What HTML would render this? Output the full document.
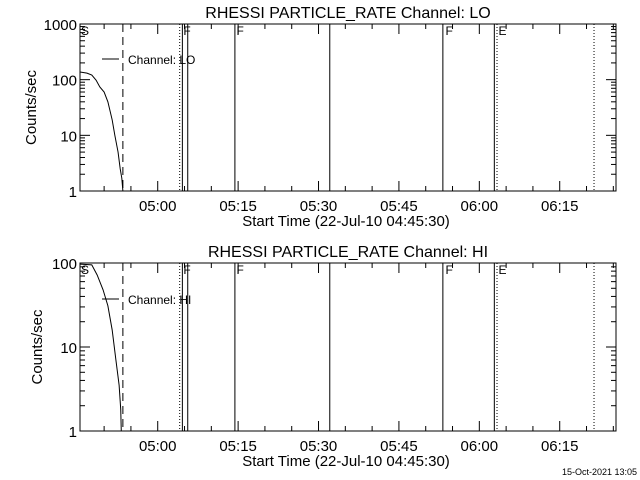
<!DOCTYPE html>
<html><head><meta charset="utf-8"><style>
body{margin:0;background:#fff}
svg{display:block;font-family:"Liberation Sans",sans-serif}
</style></head><body>
<svg id="c" width="640" height="480" viewBox="0 0 640 480"></svg>
<script>
const loTimes=[0,1.3,2.2,3.0,3.7,4.5,5.2,6.0,6.5,7.1,7.5,7.8,8.0];
const loValues=[137,131,121,98,74,60,40,19,10,5,2.5,1.7,1];
const hiTimes=[0,2.2,3.2,4.3,5.2,6.0,6.7,7.3,7.6,7.7];
const hiValues=[97,95,72,48,31,16,7,3.5,1.8,1];
const tickLabels=["05:00","05:15","05:30","05:45","06:00","06:15"];
const tickMinutes=[14.5,29.5,44.5,59.5,74.5,89.5];
const solidLines=[19.1,20.1,28.9,46.6,67.7,77.3];
const dottedLines=[18.6,77.8,95.9];
const dashedLine=8.0;
const markerLabels=["S","F","F","F","E"];
const markerTimes=[0,19.1,29.0,68.0,77.9];
const T_MAX=100;
const NS="http://www.w3.org/2000/svg";
const svg=document.getElementById('c');
function el(t,a,p){const e=document.createElementNS(NS,t);for(const k in a)e.setAttribute(k,a[k]);(p||svg).appendChild(e);return e;}
const X0=80,X1=616;
function xs(t){return X0+(X1-X0)*t/T_MAX;}
function panel(top,bot,decMax,title,times,vals,legendY,legendText,name){
  const g=el('g',{});
  
  
  function ys(v){return bot-(bot-top)*Math.log10(v)/decMax;}
  const t=el('text',{x:348,y:top-6,'text-anchor':'middle','font-size':16},g);t.textContent=title;
  
  el('rect',{x:X0,y:top,width:X1-X0,height:bot-top,fill:'none',stroke:'#000'},g);
  // y ticks
  for(let d=0;d<=decMax;d++){
    const y=ys(Math.pow(10,d));
    el('line',{x1:X0,x2:X0+10,y1:y,y2:y,stroke:'#000'},g);
    el('line',{x1:X1,x2:X1-10,y1:y,y2:y,stroke:'#000'},g);
    const l=el('text',{x:X0-3,y:y+6,'text-anchor':'end','font-size':15},g);l.textContent=String(Math.pow(10,d));
    
    if(d<decMax)for(let m=2;m<=9;m++){const ym=ys(m*Math.pow(10,d));
      el('line',{x1:X0,x2:X0+5,y1:ym,y2:ym,stroke:'#000'},g);
      el('line',{x1:X1,x2:X1-5,y1:ym,y2:ym,stroke:'#000'},g);}
  }
  // x ticks
  for(let m=4.5;m<T_MAX;m+=5){const x=xs(m);const major=tickMinutes.some(v=>Math.abs(v-m)<0.01);const L=major?10:5;
    el('line',{x1:x,x2:x,y1:bot,y2:bot-L,stroke:'#000'},g);el('line',{x1:x,x2:x,y1:top,y2:top+L,stroke:'#000'},g);}
  tickLabels.forEach((s,i)=>{const l=el('text',{x:xs(tickMinutes[i]),y:bot+20,'text-anchor':'middle','font-size':15},g);l.textContent=s;
    });
  const xl=el('text',{x:346,y:bot+35,'text-anchor':'middle','font-size':15},g);xl.textContent='Start Time (22-Jul-10 04:45:30)';
  
  const yl=el('text',{x:0,y:0,'text-anchor':'middle','font-size':15,transform:`translate(${name==='lo'?36:42},${(top+bot)/2}) rotate(-90)`},g);yl.textContent='Counts/sec';
  
  solidLines.forEach(t=>el('line',{x1:xs(t),x2:xs(t),y1:top,y2:bot,stroke:'#000'},g));
  dottedLines.forEach(t=>el('line',{x1:xs(t),x2:xs(t),y1:top,y2:bot,stroke:'#000','stroke-dasharray':'1,2'},g));
  el('line',{x1:xs(dashedLine),x2:xs(dashedLine),y1:top,y2:bot,stroke:'#000','stroke-dasharray':'8,5'},g);
  markerLabels.forEach((s,i)=>{const l=el('text',{x:xs(markerTimes[i])+1,y:top+11,'font-size':12},g);l.textContent=s;
    });
  const p=el('polyline',{points:times.map((t,i)=>xs(t)+','+ys(vals[i])).join(' '),fill:'none',stroke:'#000'},g);
  
  el('line',{x1:102,x2:119,y1:legendY,y2:legendY,stroke:'#000'},g);
  const lt=el('text',{x:128,y:legendY+5,'font-size':12},g);lt.textContent=legendText;
  
}
panel(24,191,3,'RHESSI PARTICLE_RATE Channel: LO',loTimes,loValues,59,'Channel: LO','lo');
panel(263,431,2,'RHESSI PARTICLE_RATE Channel: HI',hiTimes,hiValues,299,'Channel: HI','hi');
const d=el('text',{x:637,y:475,'text-anchor':'end','font-size':9});d.textContent='15-Oct-2021 13:05';

</script>
</body></html>
